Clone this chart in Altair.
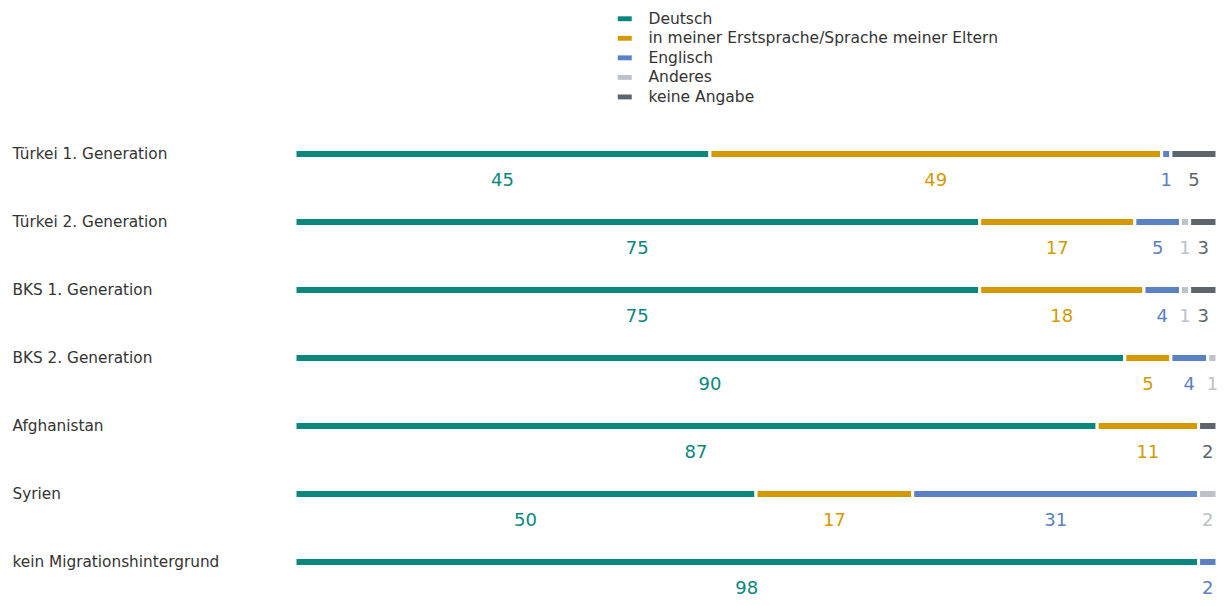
import altair as alt
import pandas as pd

groups = ["Türkei 1. Generation", "Türkei 2. Generation", "BKS 1. Generation",
          "BKS 2. Generation", "Afghanistan", "Syrien", "kein Migrationshintergrund"]
categories = ["Deutsch", "in meiner Erstsprache/Sprache meiner Eltern", "Englisch",
              "Anderes", "keine Angabe"]
colors = ["#0a877d", "#d39a00", "#5b80c4", "#bcc2c8", "#5d666d"]

deutsch = [45, 75, 75, 90, 87, 50, 98]
erstsprache = [49, 17, 18, 5, 11, 17, 0]
englisch = [1, 5, 4, 4, 0, 31, 2]
anderes = [0, 1, 1, 1, 0, 2, 0]
keine_angabe = [5, 3, 3, 0, 2, 0, 0]

series = [deutsch, erstsprache, englisch, anderes, keine_angabe]
rows = []
for gi, g in enumerate(groups):
    for ci, c in enumerate(categories):
        v = series[ci][gi]
        if v > 0:
            rows.append({"group": g, "category": c, "value": v, "order": ci})
df = pd.DataFrame(rows)

FONT = "DejaVu Sans"

color_scale = alt.Scale(domain=categories, range=colors)
y_enc = alt.Y("group:N", sort=groups, scale=alt.Scale(type="point", padding=0),
              axis=alt.Axis(title=None, domain=False, ticks=False, tickSize=0,
                            labelAlign="left", labelPadding=283, labelBaseline="middle",
                            labelFont=FONT, labelFontSize=15.3, labelColor="#333333",
                            labelOffset=-1, labelLimit=0))

base = alt.Chart(df).transform_stack(
    stack="value", groupby=["group"], as_=["x0", "x1"], offset="normalize",
    sort=[alt.SortField("order", order="ascending")]
).transform_calculate(mid="(datum.x0 + datum.x1) / 2")

x_scale = alt.Scale(domain=[0, 1], nice=False, zero=False)

bars = base.mark_bar(height=9, stroke="white", strokeWidth=3).encode(
    x=alt.X("x0:Q", scale=x_scale, axis=None),
    x2="x1:Q",
    y=y_enc,
    color=alt.Color("category:N", scale=color_scale,
                    legend=alt.Legend(title=None, orient="none", legendX=322, legendY=-143,
                                      symbolType="M-1,-0.35L1,-0.35L1,0.35L-1,0.35Z",
                                      symbolSize=196, symbolStrokeWidth=0,
                                      labelFont=FONT, labelFontSize=15.5, labelColor="#333333",
                                      labelOffset=16, rowPadding=2.55, padding=0, labelLimit=0)),
)

labels = base.mark_text(dy=27, font=FONT, fontSize=18, baseline="middle", align="center").encode(
    x=alt.X("mid:Q", scale=x_scale, axis=None),
    y=y_enc,
    text="value:Q",
    color=alt.Color("category:N", scale=color_scale, legend=None),
)

chart = alt.layer(bars, labels).properties(
    width=922, height=408,
    padding={"left": 287, "top": 146, "right": 0, "bottom": 36},
    autosize=alt.AutoSizeParams(type="none"),
).configure_view(stroke=None)

chart.save("out.html", embed_options={"renderer": "svg", "actions": False})
